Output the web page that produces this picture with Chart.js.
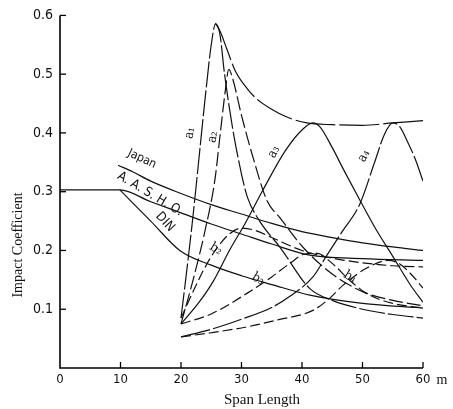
<!DOCTYPE html>
<html lang="en">
<head>
<meta charset="utf-8" />
<title>Impact Coefficient</title>
<script src="https://cdn.jsdelivr.net/npm/chart.js"></script>
<style>
  html, body { margin: 0; padding: 0; background: #fff; }
  #wrap { width: 453px; height: 409px; }
</style>
</head>
<body>
<div id="wrap"><canvas id="chart" width="453" height="409"></canvas></div>
<script>
// tick labels
const xTicks = [0, 10, 20, 30, 40, 50, 60];
const yTicks = [0.1, 0.2, 0.3, 0.4, 0.5, 0.6];

// design code curves
const japanX = [9.6, 12, 15, 20, 25, 30, 35, 40, 45, 50, 55, 60];
const japanY = [0.345, 0.334, 0.318, 0.297, 0.278, 0.262, 0.246, 0.232, 0.222, 0.213, 0.206, 0.2];
const aashoX = [0, 9.9, 15, 20, 25, 30, 35, 41.3, 50, 60];
const aashoY = [0.303, 0.303, 0.283, 0.264, 0.245, 0.228, 0.211, 0.192, 0.186, 0.183];
const dinX = [9.9, 15, 19.8, 25, 30, 35, 41.3, 50, 60];
const dinY = [0.303, 0.25, 0.2, 0.175, 0.157, 0.142, 0.124, 0.11, 0.102];

// computed curves a1..a4, envelope, b2..b4
const a1X = [20, 21, 22, 23, 24, 25, 25.7, 26.4, 27.2, 28.5, 30, 31, 33, 36.4, 41.3, 45, 50, 55, 60];
const a1Y = [0.085, 0.17, 0.26, 0.36, 0.46, 0.55, 0.585, 0.57, 0.5, 0.41, 0.33, 0.29, 0.25, 0.205, 0.135, 0.115, 0.1, 0.091, 0.085];
const a2X = [20, 22, 24, 25.6, 26.5, 27.3, 27.9, 28.6, 30, 32, 34.2, 36.4, 40.2, 45, 50, 55, 60];
const a2Y = [0.075, 0.15, 0.235, 0.32, 0.4, 0.47, 0.508, 0.49, 0.43, 0.355, 0.285, 0.255, 0.205, 0.16, 0.13, 0.115, 0.106];
const a3X = [20, 23, 25.3, 28, 30.6, 33.5, 37.2, 40, 41.8, 43, 45, 47, 49.6, 52, 55, 58, 60];
const a3Y = [0.075, 0.112, 0.147, 0.2, 0.246, 0.302, 0.369, 0.405, 0.417, 0.41, 0.375, 0.335, 0.285, 0.24, 0.19, 0.14, 0.112];
const a4X = [20, 25, 30, 35, 38, 41.8, 44, 46.5, 49.6, 52, 53.6, 55, 56.2, 57.4, 58.7, 60];
const a4Y = [0.053, 0.066, 0.083, 0.103, 0.122, 0.155, 0.19, 0.23, 0.28, 0.35, 0.397, 0.417, 0.41, 0.386, 0.356, 0.318];
const envX = [25.7, 26.5, 27.6, 29, 30.9, 32.5, 34.7, 37.5, 40.8, 45, 50, 55, 60];
const envY = [0.587, 0.572, 0.542, 0.505, 0.476, 0.458, 0.442, 0.427, 0.417, 0.414, 0.413, 0.417, 0.421];
const b2X = [20, 22, 24, 26, 28, 30, 32, 35, 40, 45, 50, 55, 60];
const b2Y = [0.085, 0.13, 0.172, 0.205, 0.228, 0.238, 0.235, 0.222, 0.2, 0.187, 0.179, 0.174, 0.172];
const b3X = [20, 25, 30.9, 35, 38, 40.5, 42.5, 45, 48, 51, 55, 60];
const b3Y = [0.075, 0.092, 0.127, 0.155, 0.178, 0.194, 0.195, 0.178, 0.148, 0.125, 0.11, 0.102];
const b4X = [20, 25, 30.9, 36, 41.8, 44.5, 46.8, 50.7, 54.2, 56, 58, 60];
const b4Y = [0.053, 0.06, 0.07, 0.082, 0.098, 0.118, 0.141, 0.17, 0.183, 0.178, 0.16, 0.136];

function pts(xs, ys) {
    return xs.map((x, i) => ({ x: x, y: ys[i] }));
}

function line(label, xs, ys, dash) {
    return {
        label: label,
        data: pts(xs, ys),
        showLine: true,
        borderColor: '#111',
        borderWidth: 1.2,
        borderDash: dash || [],
        pointRadius: 0,
        cubicInterpolationMode: 'monotone',
        fill: false
    };
}

// text on the plot, axis ticks pointing inward
const paperPlugin = {
    id: 'paper',
    afterDraw(chart) {
        const ctx = chart.ctx;
        const xs = chart.scales.x, ys = chart.scales.y;
        const left = xs.getPixelForValue(0), right = xs.getPixelForValue(60);
        const top = ys.getPixelForValue(0.6), bottom = ys.getPixelForValue(0);
        ctx.save();
        ctx.strokeStyle = '#000';
        ctx.lineWidth = 1.6;
        ctx.beginPath();
        ctx.moveTo(left, top);
        ctx.lineTo(left, bottom);
        ctx.lineTo(right, bottom);
        ctx.stroke();
        ctx.lineWidth = 1.3;
        yTicks.forEach(v => {
            const p = ys.getPixelForValue(v);
            ctx.beginPath(); ctx.moveTo(left, p); ctx.lineTo(left + 6, p); ctx.stroke();
        });
        xTicks.slice(1).forEach(v => {
            const p = xs.getPixelForValue(v);
            ctx.beginPath(); ctx.moveTo(p, bottom); ctx.lineTo(p, bottom - 6); ctx.stroke();
        });

        ctx.fillStyle = '#111';
        ctx.textAlign = 'center';
        ctx.textBaseline = 'middle';
        const put = (txt, x, y, deg, font) => {
            ctx.save();
            ctx.translate(x, y);
            ctx.rotate(deg * Math.PI / 180);
            ctx.font = font || '13px "DejaVu Serif Condensed", "Liberation Serif", serif';
            ctx.fillText(txt, 0, 0);
            ctx.restore();
        };
        put('Impact Coefficient', 18, 245, -90, '14px "Liberation Serif", serif');
        put('Span Length', 262, 400, 0, '15px "Liberation Serif", serif');
        put('m', 442, 380, 0, '14px "Liberation Serif", serif');

        put('Japan', 142, 159, 25, '12px "DejaVu Sans Condensed", sans-serif');
        put('A. A. S. H. O.', 150, 194, 31, '13px "DejaVu Sans Condensed", sans-serif');
        put('DIN', 165, 222, 47, '13px "DejaVu Sans Condensed", sans-serif');
        put('a\u2081', 190, 133, -80);
        put('a\u2082', 213, 137, -80);
        put('a\u2083', 274, 152, -62);
        put('a\u2084', 364, 156, -62);
        put('b\u2082', 216, 249, 32);
        put('b\u2083', 258, 279, 32);
        put('b\u2084', 350, 277, 32);
        ctx.restore();
    }
};

new Chart(document.getElementById('chart'), {
    type: 'scatter',
    data: {
        datasets: [
            line('Japan', japanX, japanY),
            line('A.A.S.H.O.', aashoX, aashoY),
            line('DIN', dinX, dinY),
            line('a1', a1X, a1Y, [26, 3]),
            line('a2', a2X, a2Y, [14, 4]),
            line('a3', a3X, a3Y),
            line('a4', a4X, a4Y, [30, 3]),
            line('envelope', envX, envY, [40, 4]),
            line('b2', b2X, b2Y, [10, 4]),
            line('b3', b3X, b3Y, [10, 4]),
            line('b4', b4X, b4Y, [10, 4])
        ]
    },
    options: {
        responsive: false,
        animation: false,
        events: [],
        layout: { padding: { top: 14, right: 30, left: 0, bottom: 0 } },
        plugins: {
            legend: { display: false },
            tooltip: { enabled: false }
        },
        scales: {
            x: {
                type: 'linear',
                min: 0,
                max: 60,
                grid: { display: false, drawTicks: false },
                border: { display: false },
                afterFit: s => { s.height = 41; },
                afterBuildTicks: s => { s.ticks = xTicks.map(v => ({ value: v })); },
                ticks: {
                    color: '#111',
                    padding: 4,
                    font: { family: '"DejaVu Sans Condensed", sans-serif', size: 13 },
                    callback: v => String(v)
                }
            },
            y: {
                type: 'linear',
                min: 0,
                max: 0.6,
                grid: { display: false, drawTicks: false },
                border: { display: false },
                afterFit: s => { s.width = 60; },
                afterBuildTicks: s => { s.ticks = yTicks.map(v => ({ value: v })); },
                ticks: {
                    color: '#111',
                    padding: 7,
                    font: { family: '"DejaVu Sans Condensed", sans-serif', size: 14 },
                    callback: v => v.toFixed(1)
                }
            }
        }
    },
    plugins: [paperPlugin]
});
</script>
</body>
</html>
